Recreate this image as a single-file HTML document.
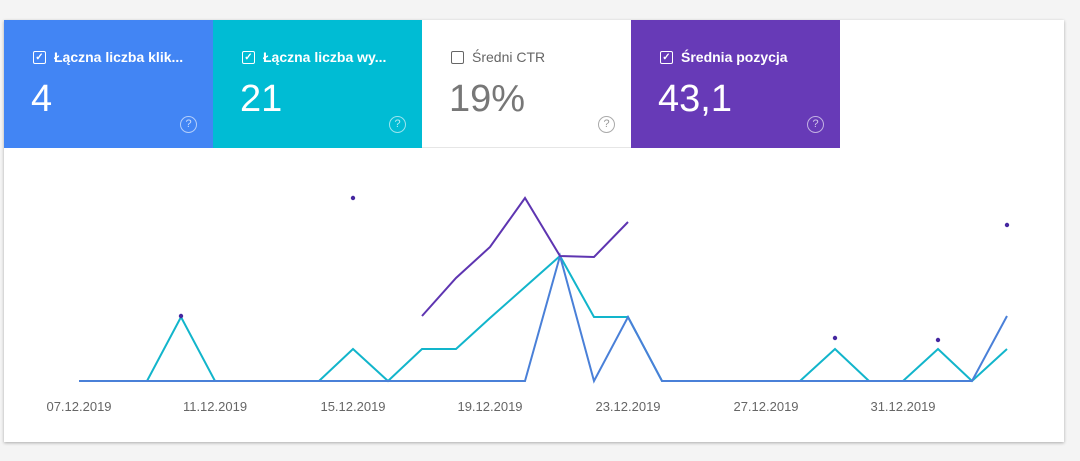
<!DOCTYPE html>
<html><head><meta charset="utf-8"><style>
body{margin:0;width:1080px;height:461px;background:#f4f4f4;font-family:"Liberation Sans",sans-serif;overflow:hidden;position:relative}
.panel{position:absolute;left:4px;top:20px;width:1060px;height:422px;background:#fff;box-shadow:0 1px 3px rgba(0,0,0,.3)}
.card{position:absolute;top:20px;width:209px;height:128px;color:#fff}
.card .t{position:absolute;left:29px;top:29px;font-size:14px;font-weight:bold;display:flex;align-items:center}
.card .t span.b{display:inline-block;width:11px;height:11px;border:1.5px solid currentColor;border-radius:2px;margin-right:8px;font-size:10px;line-height:11px;text-align:center}
.card .v{position:absolute;left:27px;top:58px;font-size:38px}
.card .q{position:absolute;left:176px;top:96px;width:15px;height:15px;border:1.5px solid rgba(255,255,255,.6);border-radius:50%;font-size:11px;line-height:15px;text-align:center;color:rgba(255,255,255,.7)}
.lbl{position:absolute;top:399px;font-size:13px;color:#666;transform:translateX(-50%)}
</style></head><body>
<div class="panel"></div>
<div class="card" style="left:4px;background:#4285f4"><div class="t"><span class="b">✓</span>Łączna liczba klik...</div><div class="v">4</div><div class="q">?</div></div>
<div class="card" style="left:213px;background:#00bcd4"><div class="t"><span class="b">✓</span>Łączna liczba wy...</div><div class="v">21</div><div class="q">?</div></div>
<div class="card" style="left:422px;background:#fff;color:#666;border-bottom:1px solid #e6e6e6;height:127px"><div class="t" style="font-weight:normal"><span class="b" style="color:#666">&nbsp;</span>Średni CTR</div><div class="v" style="color:#777">19%</div><div class="q" style="border-color:#aaa;color:#999">?</div></div>
<div class="card" style="left:631px;background:#673ab7"><div class="t"><span class="b">✓</span>Średnia pozycja</div><div class="v">43,1</div><div class="q">?</div></div>
<svg style="position:absolute;left:0;top:0" width="1080" height="461">
<polyline fill="none" stroke="#12b5cb" stroke-width="2" points="79,381 113,381 147,381 181,317 215,381 250,381 284,381 319,381 353,349 388,381 422,349 456,349 490,318 525,287 560,256 594,317 628,317 662,381 697,381 731,381 766,381 800,381 835,349 869,381 903,381 938,349 972,381 1007,349"/>
<polyline fill="none" stroke="#4a80d8" stroke-width="2" points="79,381 113,381 147,381 181,381 215,381 250,381 284,381 319,381 353,381 388,381 422,381 456,381 490,381 525,381 560,256 594,381 628,317 662,381 697,381 731,381 766,381 800,381 835,381 869,381 903,381 938,381 972,381 1007,316"/>
<polyline fill="none" stroke="#5e35b1" stroke-width="2" points="422,316 456,278 490,247 525,198 560,256 594,257 628,222"/>
<g fill="#4527a0"><circle cx="353" cy="198" r="2.2"/><circle cx="181" cy="316" r="2.2"/><circle cx="835" cy="338" r="2.2"/><circle cx="938" cy="340" r="2.2"/><circle cx="1007" cy="225" r="2.2"/></g>
</svg>
<div class="lbl" style="left:79px">07.12.2019</div>
<div class="lbl" style="left:215px">11.12.2019</div>
<div class="lbl" style="left:353px">15.12.2019</div>
<div class="lbl" style="left:490px">19.12.2019</div>
<div class="lbl" style="left:628px">23.12.2019</div>
<div class="lbl" style="left:766px">27.12.2019</div>
<div class="lbl" style="left:903px">31.12.2019</div>
</body></html>
